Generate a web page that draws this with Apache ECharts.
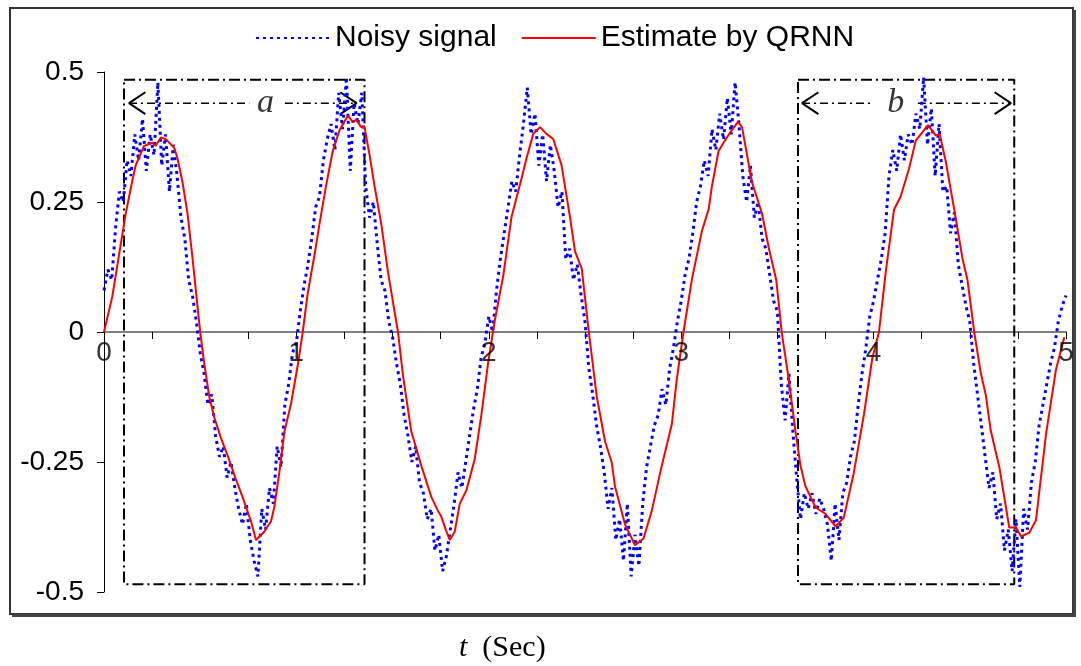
<!DOCTYPE html>
<html>
<head>
<meta charset="utf-8">
<script src="https://cdn.jsdelivr.net/npm/echarts@6/dist/echarts.min.js"></script>
<style>html,body{margin:0;padding:0;background:#fff;}#c{width:1081px;height:666px;}</style>
</head>
<body>
<div id="c"></div>
<script>
// ---- data ----
const seriesNames = ['Noisy signal', 'Estimate by QRNN'];
const xTicks = [0, 1, 2, 3, 4, 5];
const yTicks = [-0.5, -0.25, 0, 0.25, 0.5];
const noisyStep = 0.02;
const noisyV = [
 0.08, 0.12, 0.10, 0.20, 0.27, 0.25, 0.33, 0.30, 0.38, 0.33,
 0.41, 0.31, 0.38, 0.34, 0.48, 0.32, 0.38, 0.27, 0.36, 0.30,
 0.22, 0.18, 0.10, 0.07, 0.02, -0.04, -0.08, -0.14, -0.12, -0.20,
 -0.24, -0.22, -0.28, -0.25, -0.30, -0.34, -0.37, -0.33, -0.40, -0.44,
 -0.47, -0.34, -0.38, -0.30, -0.33, -0.22, -0.26, -0.14, -0.10, -0.04,
 -0.02, 0.04, 0.09, 0.13, 0.18, 0.24, 0.26, 0.33, 0.37, 0.40,
 0.35, 0.46, 0.39, 0.49, 0.31, 0.44, 0.40, 0.46, 0.28, 0.22,
 0.25, 0.17, 0.10, 0.08, 0.02, -0.01, -0.06, -0.10, -0.16, -0.20,
 -0.25, -0.22, -0.29, -0.31, -0.36, -0.34, -0.42, -0.39, -0.46, -0.43,
 -0.38, -0.33, -0.27, -0.30, -0.25, -0.20, -0.15, -0.11, -0.05, -0.02,
 0.03, 0.00, 0.08, 0.14, 0.19, 0.24, 0.29, 0.27, 0.34, 0.40,
 0.47, 0.38, 0.42, 0.32, 0.38, 0.29, 0.36, 0.31, 0.24, 0.27,
 0.14, 0.16, 0.10, 0.13, 0.07, 0.02, -0.07, -0.12, -0.18, -0.22,
 -0.27, -0.34, -0.30, -0.40, -0.36, -0.44, -0.33, -0.47, -0.39, -0.45,
 -0.33, -0.26, -0.22, -0.18, -0.16, -0.11, -0.14, -0.07, -0.03, 0.02,
 0.06, 0.11, 0.14, 0.19, 0.25, 0.28, 0.33, 0.30, 0.39, 0.35,
 0.42, 0.37, 0.45, 0.38, 0.48, 0.40, 0.30, 0.25, 0.32, 0.22,
 0.25, 0.18, 0.16, 0.11, 0.06, 0.04, -0.10, -0.17, -0.08, -0.19,
 -0.28, -0.36, -0.31, -0.34, -0.31, -0.35, -0.32, -0.34, -0.37, -0.44,
 -0.33, -0.40, -0.31, -0.29, -0.24, -0.21, -0.14, -0.08, -0.03, 0.03,
 0.06, 0.10, 0.14, 0.19, 0.30, 0.35, 0.31, 0.38, 0.33, 0.38,
 0.36, 0.42, 0.39, 0.49, 0.36, 0.43, 0.30, 0.40, 0.27, 0.28,
 0.19, 0.23, 0.13, 0.09, 0.05, 0.02, -0.06, -0.12, -0.18, -0.24,
 -0.30, -0.27, -0.36, -0.33, -0.42, -0.38, -0.46, -0.36, -0.49, -0.34,
 -0.38, -0.29, -0.25, -0.18, -0.14, -0.10, -0.06, -0.03, 0.02, 0.05,
 0.07
];
const estT = [
 0, 0.043, 0.057, 0.113, 0.147, 0.165, 0.208, 0.252, 0.269, 0.295, 0.321, 0.365, 0.382, 0.408, 0.434, 0.460, 0.486, 0.500,
 0.520, 0.547, 0.573, 0.608, 0.642, 0.686, 0.720, 0.764, 0.790, 0.833, 0.868, 0.885, 0.911, 0.938, 0.972, 1.007, 1.033,
 1.059, 1.094, 1.120, 1.154, 1.189, 1.224, 1.267, 1.293, 1.311, 1.337, 1.354, 1.380, 1.406, 1.441, 1.476, 1.528,
 1.554, 1.597, 1.649, 1.701, 1.736, 1.753, 1.776, 1.797, 1.823, 1.849, 1.884, 1.927, 1.962, 1.997, 2.031,
 2.075, 2.118, 2.170, 2.196, 2.231, 2.266, 2.300, 2.335, 2.378, 2.422, 2.448, 2.483, 2.517, 2.561,
 2.604, 2.639, 2.656, 2.708, 2.760, 2.804, 2.847, 2.899, 2.951, 2.977, 3.012,
 3.056, 3.108, 3.142, 3.160, 3.194, 3.220, 3.255, 3.295, 3.316, 3.368, 3.420, 3.455, 3.494, 3.524,
 3.559, 3.594, 3.620, 3.646, 3.698, 3.750, 3.802, 3.845, 3.897, 3.950, 3.993, 4.028,
 4.063, 4.106, 4.141, 4.184, 4.219, 4.253, 4.283, 4.323, 4.344, 4.375, 4.418, 4.462, 4.488, 4.523,
 4.557, 4.583, 4.609, 4.653, 4.705, 4.740, 4.766, 4.809, 4.844, 4.896, 4.948, 4.991
];
const estV = [
 0, 0.068, 0.100, 0.228, 0.291, 0.321, 0.358, 0.364, 0.358, 0.374, 0.371, 0.354, 0.334, 0.288, 0.228, 0.142, 0.049, 0.000,
 -0.058, -0.124, -0.164, -0.204, -0.237, -0.284, -0.317, -0.364, -0.400, -0.384, -0.364, -0.337, -0.271, -0.191, -0.138, -0.064, 0.000,
 0.075, 0.148, 0.208, 0.281, 0.348, 0.388, 0.416, 0.404, 0.408, 0.394, 0.394, 0.341, 0.281, 0.208, 0.115, 0.000,
 -0.084, -0.191, -0.257, -0.317, -0.344, -0.355, -0.380, -0.400, -0.384, -0.330, -0.304, -0.244, -0.158, -0.058, 0.022,
 0.108, 0.221, 0.295, 0.334, 0.381, 0.394, 0.381, 0.371, 0.321, 0.221, 0.155, 0.122, 0.009, -0.124,
 -0.210, -0.251, -0.297, -0.370, -0.410, -0.397, -0.344, -0.257, -0.178, -0.091, 0.000,
 0.102, 0.195, 0.235, 0.281, 0.348, 0.364, 0.384, 0.404, 0.394, 0.288, 0.228, 0.162, 0.100, -0.005,
 -0.091, -0.191, -0.257, -0.297, -0.337, -0.350, -0.374, -0.357, -0.271, -0.158, -0.051, 0.000,
 0.115, 0.235, 0.261, 0.314, 0.368, 0.384, 0.398, 0.378, 0.380, 0.328, 0.238, 0.141, 0.100, 0.000,
 -0.079, -0.121, -0.190, -0.259, -0.376, -0.376, -0.393, -0.386, -0.362, -0.197, -0.072, -0.010
];
// annotation boxes (data coordinates) and arrow labels
const boxA = {t0: 0.104, t1: 1.354, v0: -0.485, v1: 0.485};
const boxB = {t0: 3.607, t1: 4.731, v0: -0.485, v1: 0.485};
const arrowA = {tip0: 0.13, gap0: 0.755, gap1: 0.94, tip1: 1.313, v: 0.44, label: 'a', labelT: 0.84};
const arrowB = {tip0: 3.628, gap0: 3.995, gap1: 4.23, tip1: 4.714, v: 0.44, label: 'b', labelT: 4.115};

// ---- build ----
const noisyData = noisyV.map((v, i) => [Math.round(i * noisyStep * 100) / 100, v]);
const estData = estT.map((t, i) => [t, estV[i]]);
const dashDot = [11, 4, 2, 4];

function boxSeries(b) {
  return {type: 'line', silent: true, symbol: 'none', animation: false, z: 1,
    data: [[b.t0, b.v1], [b.t1, b.v1], [b.t1, b.v0], [b.t0, b.v0], [b.t0, b.v1]],
    lineStyle: {color: '#000', width: 2, type: dashDot}};
}
function segSeries(p, q, v) {
  return {type: 'line', silent: true, symbol: 'none', animation: false, z: 1,
    data: [[p, v], [q, v]], lineStyle: {color: '#000', width: 1.5, type: [8, 4, 2, 4]}};
}
function chevron(tip, v, dir) {
  const w = 0.085 * dir, h = 0.021;
  return {type: 'line', silent: true, symbol: 'none', animation: false, z: 1,
    data: [[tip + w, v + h], [tip, v], [tip + w, v - h]], lineStyle: {color: '#000', width: 2}};
}
function arrowSeries(a) {
  return [
    segSeries(a.tip0, a.gap0, a.v), segSeries(a.gap1, a.tip1, a.v),
    chevron(a.tip0, a.v, 1), chevron(a.tip1, a.v, -1),
    {type: 'scatter', silent: true, symbolSize: 1, itemStyle: {color: 'rgba(0,0,0,0)'}, animation: false,
     data: [{value: [a.labelT, a.v], name: a.label}],
     label: {show: true, position: 'inside', formatter: '{b}', color: '#000',
       fontFamily: 'Liberation Serif', fontStyle: 'italic', fontSize: 34}}
  ];
}

const chart = echarts.init(document.getElementById('c'), null, {renderer: 'canvas'});
const labelFont = 'Liberation Sans';
chart.setOption({
  backgroundColor: '#fff',
  animation: false,
  grid: {left: 104, right: 15, top: 72, bottom: 74, containLabel: false},
  legend: {
    top: 18, left: 250, itemWidth: 74, itemHeight: 14, itemGap: 24,
    data: seriesNames,
    itemStyle: {opacity: 0},
    textStyle: {fontFamily: labelFont, fontSize: 30, color: '#000', padding: [0, 0, 0, 0]}
  },
  xAxis: {
    type: 'value', position: 'bottom', min: xTicks[0], max: xTicks[xTicks.length - 1], interval: 0.25,
    axisLine: {onZero: true, lineStyle: {color: '#7f7f7f', width: 2}},
    axisTick: {show: true, length: 7, lineStyle: {color: '#000', width: 1}},
    axisLabel: {show: false},
    splitLine: {show: false}
  },
  yAxis: {
    type: 'value', min: yTicks[0], max: yTicks[yTicks.length - 1], interval: 0.25,
    axisLine: {show: true, onZero: false, lineStyle: {color: '#000', width: 1}},
    axisTick: {show: true, length: 7, lineStyle: {color: '#000'}},
    axisLabel: {color: '#000', fontFamily: labelFont, fontSize: 28, margin: 20},
    splitLine: {show: false}
  },
  graphic: [
    {type: 'rect', shape: {x: 10, y: 8, width: 1063, height: 606}, style: {fill: 'none', stroke: '#333', lineWidth: 2}, silent: true},
    {type: 'line', shape: {x1: 12, y1: 615.5, x2: 1075, y2: 615.5}, style: {stroke: '#444', lineWidth: 3}, silent: true},
    {type: 'line', shape: {x1: 1074.5, y1: 10, x2: 1074.5, y2: 617}, style: {stroke: '#444', lineWidth: 3}, silent: true},
    {type: 'text', left: 459, top: 633, silent: true,
     style: {text: '{i|t}  (Sec)', fill: '#000', font: '30px "Liberation Serif"',
       rich: {i: {fontStyle: 'italic', fontFamily: 'Liberation Serif', fontSize: 30}}}}
  ],
  series: [
    {name: seriesNames[0], type: 'line', symbol: 'none', data: noisyData, z: 2,
     itemStyle: {color: '#0000ff'},
     lineStyle: {color: '#0000ff', width: 3, type: [3, 4], cap: 'butt'}},
    {name: seriesNames[1], type: 'line', symbol: 'none', data: estData, z: 3,
     itemStyle: {color: '#ff0000'},
     lineStyle: {color: '#ff0000', width: 2}},
    boxSeries(boxA), boxSeries(boxB),
    ...arrowSeries(arrowA), ...arrowSeries(arrowB),
    // x tick labels placed on the zero line through the axis scale
    {type: 'scatter', silent: true, symbolSize: 1, itemStyle: {color: 'rgba(0,0,0,0)'}, animation: false, z: 4,
     data: xTicks.map(t => ({value: [t, 0], name: String(t)})),
     label: {show: true, position: 'bottom', distance: 7, formatter: '{b}', color: '#000',
       fontFamily: labelFont, fontSize: 28}}
  ]
});
</script>
</body>
</html>
